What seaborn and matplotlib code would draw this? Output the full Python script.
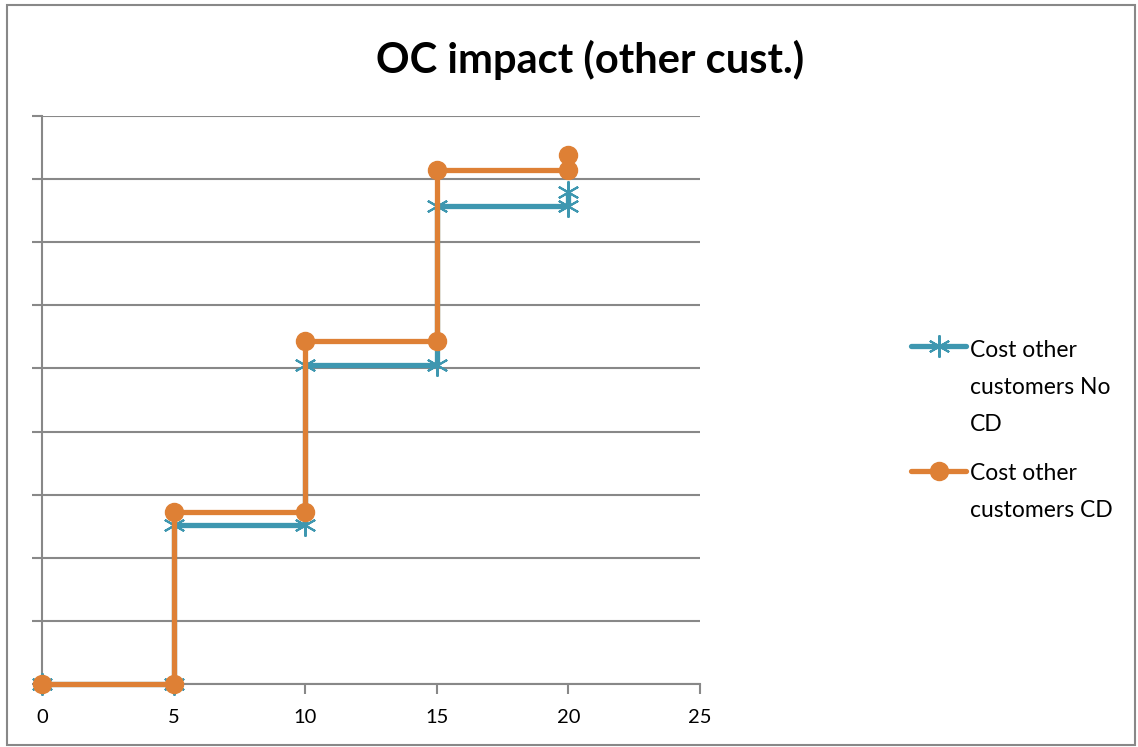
import matplotlib
matplotlib.use("Agg")
import matplotlib.pyplot as plt
import seaborn as sns
import pandas as pd
from matplotlib.patches import Rectangle
from matplotlib.lines import Line2D

# Data
x_vals = [0, 5, 5, 10, 10, 15, 15, 20, 20]
no_cd = [0, 0, 2.52, 2.52, 5.05, 5.05, 7.57, 7.57, 7.8]
cd = [0, 0, 2.72, 2.72, 5.44, 5.44, 8.15, 8.15, 8.38]
series_names = ["Cost other customers No CD", "Cost other customers CD"]
legend_labels = ["Cost other\ncustomers No\nCD", "Cost other\ncustomers CD"]
x_ticks = [0, 5, 10, 15, 20, 25]
title = "OC impact (other cust.)"

df_nocd = pd.DataFrame({"x": x_vals, "y": no_cd})
df_cd = pd.DataFrame({"x": x_vals, "y": cd})

sns.set_theme(style="white")
plt.rcParams["font.family"] = ["Lato", "DejaVu Sans"]

teal = "#3E97B0"
orange = "#DE8035"
grid_c = "#888888"
star = (6, 2, 0)
W, H = 1138, 747

fig = plt.figure(figsize=(W / 100, H / 100), dpi=100)
ax = fig.add_axes([42 / W, 63 / H, 658 / W, 568 / H])

sns.lineplot(data=df_nocd, x="x", y="y", estimator=None, sort=False,
             color=teal, linewidth=3.8, marker=star, markersize=16,
             markeredgewidth=1.5, markeredgecolor=teal,
             ax=ax, clip_on=False, zorder=5)
sns.lineplot(data=df_cd, x="x", y="y", estimator=None, sort=False,
             color=orange, linewidth=3.8, marker="o", markersize=13,
             markeredgewidth=1, markeredgecolor=orange, markerfacecolor=orange,
             ax=ax, clip_on=False, zorder=6)

ax.set_xlim(0, 25)
ax.set_ylim(0, 9)
ax.set_xticks(x_ticks)
ax.set_xticklabels([str(t) for t in x_ticks], fontsize=14.5, color="black")
ax.set_yticks(range(0, 10))
ax.set_yticklabels([])
ax.set_xlabel("")
ax.set_ylabel("")
ax.grid(axis="y", color=grid_c, linewidth=1.5)
ax.set_axisbelow(True)
for s in ["top", "right"]:
    ax.spines[s].set_visible(False)
for s in ["left", "bottom"]:
    ax.spines[s].set_color(grid_c)
    ax.spines[s].set_linewidth(1.5)
ax.tick_params(axis="x", direction="out", length=7, width=1.5, color=grid_c,
               pad=11, labelcolor="black", bottom=True)
ax.tick_params(axis="y", direction="out", length=7, width=1.5, color=grid_c,
               left=True)

# Legend drawn Excel-style: handle aligned with the first text line
# (colour, marker, size, edge width, handle y px, last-line baseline y px)
leg_specs = [
    (teal, star, 16, 1.5, 346, 431),
    (orange, "o", 13, 1, 471, 517),
]
for (c, m, ms, mew, ly, by), lab in zip(leg_specs, legend_labels):
    fig.add_artist(Line2D([911 / W, 966 / W], [1 - ly / H, 1 - ly / H],
                          transform=fig.transFigure, color=c, linewidth=3.8,
                          solid_capstyle="round"))
    fig.add_artist(Line2D([938.5 / W], [1 - ly / H], transform=fig.transFigure,
                          color=c, marker=m, markersize=ms, markeredgewidth=mew,
                          markeredgecolor=c, markerfacecolor=c, linestyle="none"))
    fig.text(970 / W, 1 - by / H, lab, fontsize=16.5, color="black",
             va="baseline", ha="left", linespacing=1.93)

fig.suptitle(title, x=590 / W, y=1 - 60 / H, va="center",
             fontsize=30, fontweight="bold", color="black")

fig.patches.append(Rectangle((7 / W, 2 / H), 1128 / W, 740 / H,
                             transform=fig.transFigure, fill=False,
                             edgecolor=grid_c, linewidth=1.5))

fig.savefig("out.png", dpi=100)
